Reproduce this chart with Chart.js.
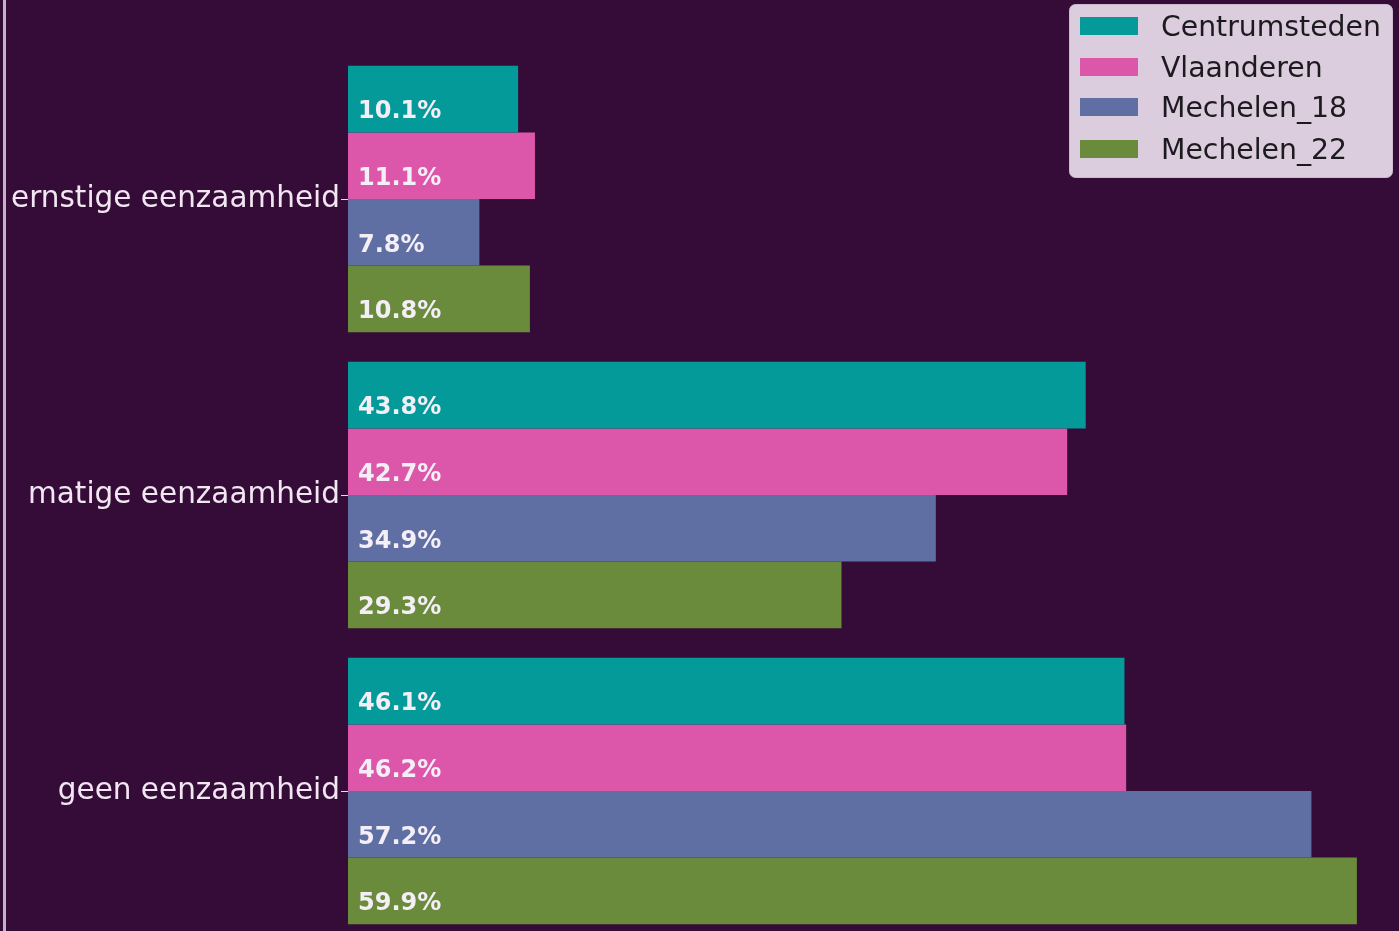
<!DOCTYPE html>
<html>
<head>
<meta charset="utf-8">
<script src="https://cdn.jsdelivr.net/npm/chart.js@4"></script>
<style>
html,body{margin:0;padding:0;background:#350c37;overflow:hidden;}
#wrap{width:1399px;height:960px;position:relative;}
</style>
</head>
<body>
<div id="wrap"><canvas id="c" width="1399" height="960"></canvas></div>
<script>
const categories = ['ernstige eenzaamheid', 'matige eenzaamheid', 'geen eenzaamheid'];
const seriesNames = ['Centrumsteden', 'Vlaanderen', 'Mechelen_18', 'Mechelen_22'];
const centrumsteden = [10.1, 43.8, 46.1];
const vlaanderen = [11.1, 42.7, 46.2];
const mechelen18 = [7.8, 34.9, 57.2];
const mechelen22 = [10.8, 29.3, 59.9];
const seriesColors = ['#049a9a', '#dc56a9', '#5f6fa3', '#6a8a3c'];

const values = [centrumsteden, vlaanderen, mechelen18, mechelen22];

const bgPlugin = {
  id: 'bg',
  beforeDraw(chart) {
    const ctx = chart.ctx;
    ctx.save();
    ctx.fillStyle = '#350c37';
    ctx.fillRect(0, 0, chart.width, chart.height);
    ctx.fillStyle = '#c7b0cc';
    ctx.fillRect(3, 0, 3, chart.height);
    ctx.restore();
  }
};

const labelPlugin = {
  id: 'barLabels',
  afterDatasetsDraw(chart) {
    const ctx = chart.ctx;
    ctx.save();
    ctx.font = 'bold 24px "DejaVu Sans"';
    ctx.fillStyle = '#f4eef6';
    ctx.textAlign = 'left';
    ctx.textBaseline = 'middle';
    chart.data.datasets.forEach((ds, di) => {
      const meta = chart.getDatasetMeta(di);
      meta.data.forEach((bar, i) => {
        const v = ds.data[i];
        ctx.fillText(v.toFixed(1) + '%', bar.base + 10, bar.y + 13);
      });
    });
    ctx.restore();
  }
};

const legendPlugin = {
  id: 'customLegend',
  afterDraw(chart) {
    const ctx = chart.ctx;
    ctx.save();
    const x = 1069.5, y = 4.5, w = 323, h = 173, r = 6;
    ctx.beginPath();
    ctx.roundRect(x, y, w, h, r);
    ctx.fillStyle = '#dbcddd';
    ctx.fill();
    ctx.strokeStyle = '#cbbccd';
    ctx.lineWidth = 1;
    ctx.stroke();
    const rows = [26, 67, 107, 149];
    ctx.font = '28.3px "DejaVu Sans"';
    ctx.textAlign = 'left';
    ctx.textBaseline = 'middle';
    chart.data.datasets.forEach((ds, i) => {
      ctx.fillStyle = ds.backgroundColor;
      ctx.fillRect(1080, rows[i] - 9, 58, 18);
      ctx.fillStyle = '#1c1a1e';
      ctx.fillText(ds.label, 1161, rows[i] + 3);
    });
    ctx.restore();
  }
};

new Chart(document.getElementById('c'), {
  type: 'bar',
  data: {
    labels: categories,
    datasets: seriesNames.map((n, i) => ({
      label: n,
      data: values[i],
      backgroundColor: seriesColors[i],
      borderWidth: 0,
      categoryPercentage: 0.9,
      barPercentage: 1.0
    }))
  },
  options: {
    indexAxis: 'y',
    responsive: false,
    animation: false,
    layout: { padding: { top: 51, bottom: 21, left: 0, right: 0 } },
    plugins: { legend: { display: false }, tooltip: { enabled: false } },
    scales: {
      x: { display: false, min: 0, max: 62.4 },
      y: {
        offset: true,
        grid: { display: true, offset: false, drawOnChartArea: false, drawTicks: true, tickLength: 7, color: '#e8dcea', lineWidth: 1 },
        border: { display: false },
        ticks: { color: '#f1e6f2', font: { family: 'DejaVu Sans', size: 29.5 }, padding: 1 },
        afterFit(scale) { scale.width = 348; }
      }
    }
  },
  plugins: [bgPlugin, labelPlugin, legendPlugin]
});
</script>
</body>
</html>
